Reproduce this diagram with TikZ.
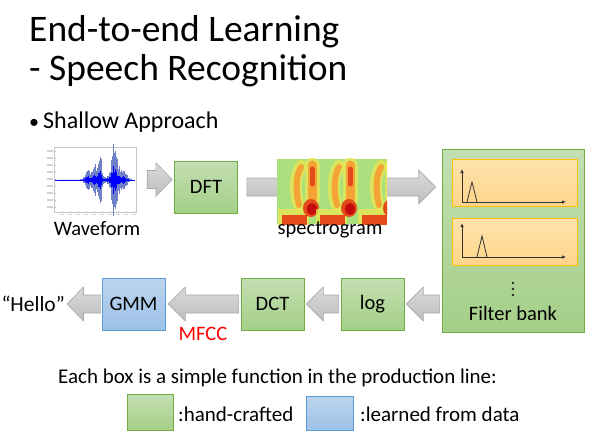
\documentclass[tikz,border=0pt]{standalone}
\usepackage{fontspec}
\setmainfont{Carlito}
\usetikzlibrary{calc,arrows.meta}

\definecolor{greentop}{HTML}{C3DFB1}
\definecolor{greenbot}{HTML}{A4CF88}
\definecolor{greenline}{HTML}{70AD47}
\definecolor{bluetop}{HTML}{BCD5EE}
\definecolor{bluebot}{HTML}{9DC1E6}
\definecolor{blueline}{HTML}{5B9BD5}
\definecolor{fbtop}{HTML}{FFE3AC}
\definecolor{fbbot}{HTML}{FFD58A}
\definecolor{fbline}{HTML}{FFC000}
\definecolor{arrtop}{HTML}{DADADA}
\definecolor{arrbot}{HTML}{BEBEBE}
\definecolor{arrline}{HTML}{A8A8A8}
\definecolor{specbg}{HTML}{ABE07E}
\definecolor{specyellow}{HTML}{F0E650}
\definecolor{specorange}{HTML}{F5A335}
\definecolor{specred}{HTML}{E44A1A}
\definecolor{specdark}{HTML}{C40C0C}
\definecolor{waveouter}{HTML}{7080C8}
\definecolor{mfccred}{HTML}{FF0000}

\tikzset{
  handbox/.style={draw=greenline, line width=0.8pt, top color=greentop, bottom color=greenbot,
    minimum width=63, minimum height=52, inner sep=0pt, font=\fontsize{20.5}{24}\selectfont},
  learnbox/.style={handbox, draw=blueline, top color=bluetop, bottom color=bluebot},
  filterbox/.style={draw=fbline, line width=0.8pt, top color=fbtop, bottom color=fbbot,
    minimum width=125, minimum height=47, inner sep=0pt},
  axis/.style={line width=0.9pt, black!80, -{Latex[length=4pt,width=3.5pt]}},
  label/.style={font=\fontsize{20.5}{24}\selectfont, inner sep=0pt},
  plain/.style={font=\fontsize{21}{25}\selectfont, inner sep=0pt},
}

% grey block arrow from #1 (tail) to #2 (tip)
\newcommand{\blockarr}[2]{%
  \path[draw=arrline, line width=0.6pt, top color=arrtop, bottom color=arrbot]
    let \p1=#1, \p2=#2, \p3=($#2!17pt!#1$) in
    (\x1,{\y1+9pt}) -- (\x3,{\y1+9pt}) -- (\x3,{\y1+17pt}) -- (\x2,\y1)
    -- (\x3,{\y1-17pt}) -- (\x3,{\y1-9pt}) -- (\x1,{\y1-9pt}) -- cycle;}

\begin{document}
\begin{tikzpicture}[x=1pt,y=-1pt]
    \useasboundingbox (0,0) rectangle (599,437);

    \node[anchor=base west, inner sep=0pt, font=\fontsize{37.5}{42}\selectfont] (title1) at (29,41) {End-to-end Learning};
    \node[anchor=base west, inner sep=0pt, font=\fontsize{37.5}{42}\selectfont] (title2) at (29,80) {- Speech Recognition};
    \node[anchor=base west, inner sep=0pt, font=\fontsize{20}{24}\selectfont] (bullet) at (29,128) {\textbullet};
    \node[anchor=base west, inner sep=0pt, font=\fontsize{24}{28}\selectfont] (shallow) at (43,128) {Shallow Approach};

    % waveform
    \node[draw=gray!45, line width=0.4pt, minimum width=82, minimum height=65, inner sep=0pt] (wave) at (95,179.5) {};
    \foreach \y in {151,158,...,210} {
        \draw[gray!50, line width=0.3pt] (54,\y) -- (55.5,\y);
        \fill[gray!35] (47,{\y-0.6}) rectangle (52.5,{\y+0.6});
    }
    \foreach \x in {62,70,...,134} {
        \draw[gray!50, line width=0.3pt] (\x,212) -- (\x,210.5);
        \fill[gray!35] ({\x-2},214) rectangle ({\x+2},215.2);
    }
    \draw[blue, line width=0.4pt] (55,180) -- (135,180);
    \pgfmathsetseed{5}
    \foreach \x in {60,60.4,...,133} {
        \pgfmathsetmacro\a{0.4+10*exp(-1*((\x-88)/4)^2)+16*exp(-1*((\x-95)/3)^2)+22*exp(-1*((\x-100)/2)^2)+28*exp(-1*((\x-113)/2.5)^2)+20*exp(-1*((\x-117)/3)^2)+8*exp(-1*((\x-124)/4)^2)+4*exp(-1*((\x-110)/10)^2)}
        \pgfmathsetmacro\r{\a*(0.4+0.6*rnd)}
        \draw[waveouter, line width=0.25pt] (\x,{180-\r}) -- (\x,{180+\r});
        \draw[blue, line width=0.45pt] (\x,{180-0.4*\r}) -- (\x,{180+0.4*\r});
    }
    \node[label, anchor=base] (wavelabel) at (97,235) {Waveform};

    \node[handbox] (dft) at (206,187) {DFT};

    % filter bank
    \node[draw=greenline, line width=0.8pt, top color=greentop, bottom color=greenbot,
          minimum width=142, minimum height=183, inner sep=0pt] (fbank) at (513,240.5) {};
    \node[filterbox] (f1) at (514.5,183) {};
    \node[filterbox] (f2) at (514.5,241.5) {};
    \draw[axis] (462,202) -- (462,169);
    \draw[axis] (462,202) -- (566,202);
    \draw[line width=0.8pt, black!80] (467,202) -- (472,182) -- (477,202);
    \draw[axis] (462,257) -- (462,223);
    \draw[axis] (462,257) -- (566,257);
    \draw[line width=0.8pt, black!80] (477,257) -- (482,236) -- (487,257);
    \foreach \y in {283,289,295} {
        \fill[black!85] (513,\y) circle (1.3);
    }
    \node[label, anchor=base] (fblabel) at (513,320) {Filter bank};

    \blockarr{($(wave.east)+(11,0)$)}{($(dft.west)+(-2,0)$)}
    \blockarr{($(dft.east)+(9,0)$)}{($(fbank.west |- dft.east)+(-6,0)$)}

    % spectrogram
    \node[fill=specbg, minimum width=110, minimum height=65, inner sep=0pt] (spec) at (332,191.5) {};
    \begin{scope}
        \clip (spec.south west) rectangle (spec.north east);
        \foreach \o in {277,315,357} {
            \draw[specyellow, opacity=0.7, line width=12pt, line cap=round] (\o+24,166) .. controls (\o+17,176) and (\o+18,196) .. (\o+22,205);
            \draw[specyellow, opacity=0.7, line width=15pt, line cap=round] (\o+35,165) -- (\o+35,200);
            \fill[specyellow, opacity=0.7] (\o+1,209) rectangle (\o+32,225);
            \draw[specorange, line width=6pt, line cap=round] (\o+24,167) .. controls (\o+18,176) and (\o+19,196) .. (\o+22,205);
            \draw[specorange, line width=9pt, line cap=round] (\o+35,165) -- (\o+35,199);
            \draw[specred, line width=5pt, line cap=round] (\o+35,169) -- (\o+35,184);
            \fill[specred] (\o+5,215) rectangle (\o+30,225);
            \fill[specred] (\o+34,208) ellipse (8 and 9);
            \fill[specdark] (\o+35,209) ellipse (5 and 6);
        }
    \end{scope}
    \node[label, anchor=base] (speclabel) at (330,234) {spectrogram};

    % bottom row
    \node[handbox] (log) at (372.5,304) {log};
    \node[handbox] (dct) at (272.5,304) {DCT};
    \node[learnbox] (gmm) at (133.5,304) {GMM};
    \node[anchor=base east, inner sep=0pt, font=\fontsize{21.5}{25}\selectfont] (hello) at (65,311) {“Hello”};
    \node[anchor=base, inner sep=0pt, text=mfccred, font=\fontsize{20.5}{24}\selectfont] (mfcc) at (203,340) {MFCC};

    \blockarr{($(fbank.west |- log.east)+(-2,0)$)}{($(log.east)+(2,0)$)}
    \blockarr{($(log.west)+(-2,0)$)}{($(dct.east)+(2,0)$)}
    \blockarr{($(dct.west)+(-2,0)$)}{($(gmm.east)+(3,0)$)}
    \blockarr{($(gmm.west)+(-1,0)$)}{($(hello.east)+(2,-8)$)}

    % legend
    \node[plain, anchor=base west] (note) at (58,383) {Each box is a simple function in the production line:};
    \node[handbox, minimum width=46, minimum height=36] (legg) at (150,412.5) {};
    \node[plain, anchor=base west] (leggtext) at (178,421) {:hand-crafted};
    \node[learnbox, minimum width=47, minimum height=34] (legb) at (330,413) {};
    \node[plain, anchor=base west] (legbtext) at (360,421) {:learned from data};
\end{tikzpicture}
\end{document}
